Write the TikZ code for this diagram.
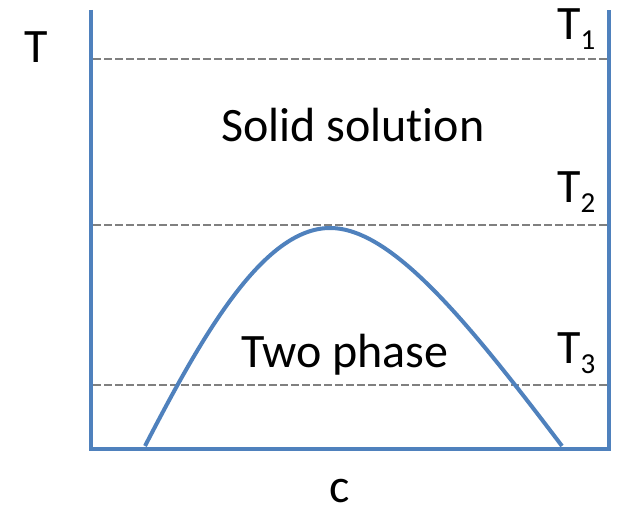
\documentclass[tikz,border=0pt]{standalone}
\usepackage{fontspec}
\setmainfont{Carlito}[Ligatures={NoCommon}]
\definecolor{wallblue}{RGB}{79,129,189}
\definecolor{tgray}{RGB}{128,128,128}
\newcommand{\Tsub}[1]{T\raisebox{-10pt}{\fontsize{29}{30}\selectfont #1}}

\begin{document}
\begin{tikzpicture}[x=1pt, y=-1pt,
    wall/.style={draw=wallblue, line width=4.5pt},
    isotherm/.style={draw=tgray, line width=2pt, dash pattern=on 7.5pt off 3.5pt},
    lab/.style={inner sep=0pt, font=\fontsize{48}{56}\selectfont}]
    \useasboundingbox (0,0) rectangle (618,510);

    \coordinate (TL) at (91,10);
    \coordinate (BL) at (91,449);
    \coordinate (BR) at (609,449);
    \coordinate (TR) at (609,10);

    \draw[wall, line join=miter] (TL) -- (BL) -- (BR) -- (TR);

    \foreach \name/\y in {one/59, two/225, three/385} {
        \draw[isotherm] (93,\y) -- (607,\y);
    }

    \coordinate (A) at (145,446);
    \coordinate (P) at (330,228);
    \coordinate (B) at (562,446);
    \draw[wallblue, line width=4pt]
        (A) .. controls (200,340) and (262,228) .. (P)
            .. controls (392,228) and (468,322) .. (B);

    \node[lab, anchor=base west] (Taxis) at (24,63) {T};
    \node[lab, anchor=base west] (T1) at (557,40) {\Tsub{1}};
    \node[lab, anchor=base west] (T2) at (557,203) {\Tsub{2}};
    \node[lab, anchor=base west] (T3) at (557,363) {\Tsub{3}};
    \node[lab, anchor=base west] (solid) at (221,142) {Solid solution};
    \node[lab, anchor=base west] (twophase) at (241,367) {Two phase};
    \node[lab, anchor=base] (caxis) at (340,502) {c};
\end{tikzpicture}
\end{document}
